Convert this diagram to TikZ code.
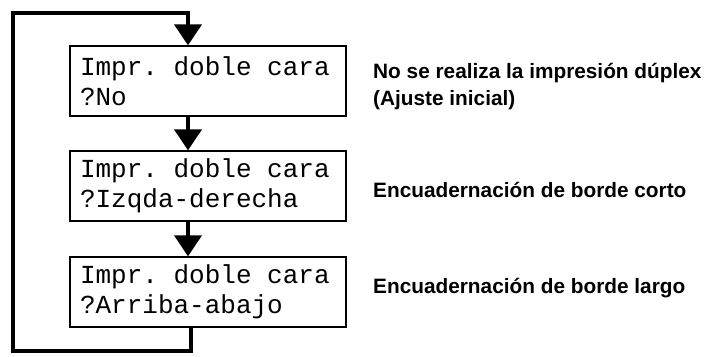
\documentclass[tikz,border=0pt]{standalone}
\usepackage{fontspec}
\setmonofont{Liberation Mono}
\setsansfont{Liberation Sans}
\usetikzlibrary{arrows.meta}
\newcommand\msp{\phantom{x}}
\tikzset{
  lcd/.style={draw, line width=1.3pt, rectangle, minimum width=276pt, minimum height=70pt,
    inner xsep=10pt, inner ysep=0pt, text width=256pt, align=left,
    font=\ttfamily\fontsize{26}{30}\selectfont},
  note/.style={anchor=west, inner sep=0pt, align=left,
    font=\sffamily\bfseries\fontsize{20.8}{27}\selectfont},
  conn/.style={line width=4pt, line cap=butt, line join=miter},
  arr/.style={conn, -{Triangle[width=27pt,length=21pt]}}
}
\begin{document}
\begin{tikzpicture}[x=1pt,y=1pt]
\useasboundingbox (0,0) rectangle (711,-356);
\node[lcd] (b1) at (208,-81) {Impr.\msp doble\msp cara\\?No};
\node[lcd] (b2) at (208,-186) {Impr.\msp doble\msp cara\\?Izqda-derecha};
\node[lcd] (b3) at (208,-292) {Impr.\msp doble\msp cara\\?Arriba-abajo};
\node[note] (t1) at (373,-86.5) {No se realiza la impresión dúplex\\(Ajuste inicial)};
\node[note] (t2) at (373,-190) {Encuadernación de borde corto};
\node[note] (t3) at (373,-288) {Encuadernación de borde largo};
\coordinate (bl) at (13,-351);
\coordinate (tl) at (13,-13);
\draw[arr] ([xshift=-20pt]b1.south) -- ([xshift=-20pt]b2.north);
\draw[arr] ([xshift=-20pt]b2.south) -- ([xshift=-20pt]b3.north);
\draw[arr] ([xshift=-17.5pt]b3.south) |- (bl) -- (tl) -| ([xshift=-20pt]b1.north);
\end{tikzpicture}
\end{document}
